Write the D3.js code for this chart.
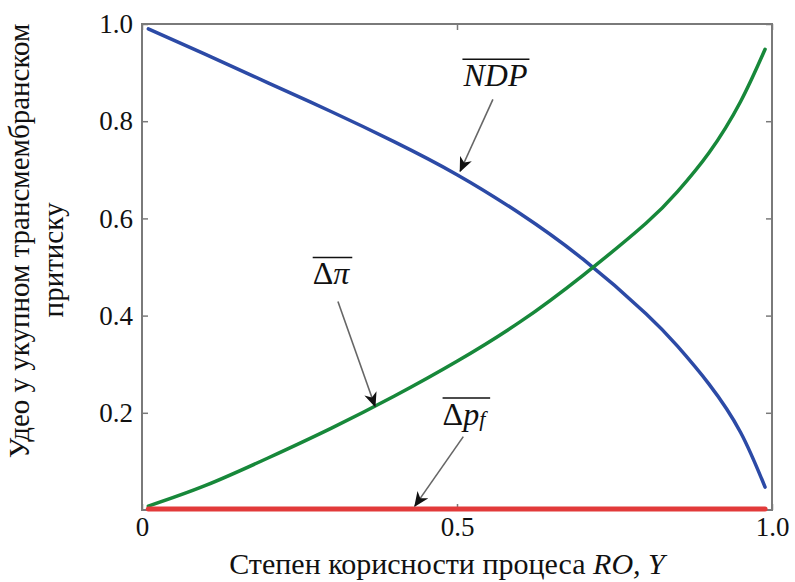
<!DOCTYPE html>
<html>
<head>
<meta charset="utf-8">
<script src="https://cdn.jsdelivr.net/npm/d3@7"></script>
<style>
    body { margin: 0; background: #fff; }
    svg { display: block; }
    svg text { fill: #111; }
</style>
</head>
<body>
<svg id="chart"></svg>
<script>
// values
const yValues = [0.01, 0.1, 0.2, 0.3, 0.4, 0.5, 0.6, 0.7, 0.8, 0.85, 0.9, 0.95, 0.989]
const ndp = [0.99, 0.938, 0.879, 0.82, 0.758, 0.69, 0.61, 0.516, 0.404, 0.337, 0.259, 0.16, 0.047]
const deltaPi = [0.008, 0.05, 0.107, 0.168, 0.234, 0.306, 0.387, 0.483, 0.59, 0.655, 0.735, 0.84, 0.948]
const deltaPf = [0.002, 0.002, 0.002, 0.002, 0.002, 0.002, 0.002, 0.002, 0.002, 0.002, 0.002, 0.002, 0.002]

const xTicks = [0, 0.5, 1.0]
const xTickLabels = ['0', '0.5', '1.0']
const yTicks = [0.2, 0.4, 0.6, 0.8, 1.0]
const yTickLabels = ['0.2', '0.4', '0.6', '0.8', '1.0']

const seriesNames = ['NDP', 'Δπ', 'Δpf']

const width = 795
const height = 582
const margin = { top: 24, right: 23, bottom: 72, left: 142 }
const serif = '"Liberation Serif", "Times New Roman", "DejaVu Serif", serif'

const svg = d3.select('#chart')
    .attr('width', width)
    .attr('height', height)
    .attr('font-family', serif)

const x = d3.scaleLinear().domain([0, 1]).range([margin.left, width - margin.right])
const y = d3.scaleLinear().domain([0, 1]).range([height - margin.bottom, margin.top])

// frame, matlab style with ticks pointing inwards
const frameColor = '#7a7a7a'

function axisGroup(transform, axis) {
    return svg.append('g')
        .attr('transform', transform)
        .call(axis)
        .attr('font-family', serif)
        .attr('font-size', 27)
        .call(g => g.select('.domain').remove())
}

axisGroup(`translate(0,${y(0)})`,
    d3.axisBottom(x).tickValues(xTicks).tickSize(-6).tickPadding(7)
        .tickFormat((d, i) => xTickLabels[i]))
axisGroup(`translate(${x(0)},0)`,
    d3.axisLeft(y).tickValues(yTicks).tickSize(-6).tickPadding(9)
        .tickFormat((d, i) => yTickLabels[i]))
axisGroup(`translate(${x(1)},0)`,
    d3.axisRight(y).tickValues(yTicks).tickSize(-6).tickFormat(''))
axisGroup(`translate(0,${y(1)})`,
    d3.axisTop(x).tickValues(xTicks).tickSize(-6).tickFormat(''))

svg.selectAll('.tick line').attr('stroke', frameColor).attr('stroke-width', 1.5)
svg.selectAll('.tick text').attr('fill', '#111')

svg.append('rect')
    .attr('x', x(0))
    .attr('y', y(1))
    .attr('width', x(1) - x(0))
    .attr('height', y(0) - y(1))
    .attr('fill', 'none')
    .attr('stroke', frameColor)
    .attr('stroke-width', 2)

// the three curves
const line = d3.line()
    .x(d => x(d[0]))
    .y(d => y(d[1]))
    .curve(d3.curveNatural)

const curves = [
    { name: seriesNames[0], values: ndp, color: '#2c4aa6', width: 3.5 },
    { name: seriesNames[1], values: deltaPi, color: '#17883a', width: 3.5 },
    { name: seriesNames[2], values: deltaPf, color: '#e23a3a', width: 5 }
]

svg.append('g').attr('class', 'curves')
    .selectAll('path')
    .data(curves)
    .join('path')
    .attr('d', c => line(yValues.map((v, i) => [v, c.values[i]])))
    .attr('fill', 'none')
    .attr('stroke', c => c.color)
    .attr('stroke-width', c => c.width)
    .attr('stroke-linecap', 'round')

// annotations with arrows, placed in data units
svg.append('defs').append('marker')
    .attr('id', 'head')
    .attr('viewBox', '0 0 14 12')
    .attr('refX', 13)
    .attr('refY', 6)
    .attr('markerUnits', 'userSpaceOnUse')
    .attr('markerWidth', 15)
    .attr('markerHeight', 13)
    .attr('orient', 'auto')
    .append('path')
    .attr('d', 'M0,0 L14,6 L0,12 L4,6 Z')
    .attr('fill', '#111')

const notes = [
    { parts: [['NDP', 'italic', false]], tx: 0.561, ty: 0.872, from: [0.557, 0.845], to: [0.505, 0.697] },
    { parts: [['Δ', 'normal', false], ['π', 'italic', false]], tx: 0.30, ty: 0.464, from: [0.311, 0.429], to: [0.37, 0.213] },
    { parts: [['Δ', 'normal', false], ['p', 'italic', false], ['f', 'italic', true]], tx: 0.511, ty: 0.175, from: [0.51, 0.151], to: [0.433, 0.008] }
]

const noteGroup = svg.append('g').attr('class', 'notes')

notes.forEach(note => {
    noteGroup.append('line')
        .attr('x1', x(note.from[0]))
        .attr('y1', y(note.from[1]))
        .attr('x2', x(note.to[0]))
        .attr('y2', y(note.to[1]))
        .attr('stroke', '#666')
        .attr('stroke-width', 1.6)
        .attr('marker-end', 'url(#head)')

    const label = noteGroup.append('text')
        .attr('x', x(note.tx))
        .attr('y', y(note.ty))
        .attr('text-anchor', 'middle')
        .attr('font-size', 32)

    note.parts.forEach(([str, style, sub]) => {
        const span = label.append('tspan')
            .text(str)
            .attr('font-style', style)
        if (sub) span.attr('font-size', 22).attr('dy', 1)
    })

    // bar over the symbol
    const box = label.node().getBBox()
    noteGroup.append('line')
        .attr('x1', box.x)
        .attr('x2', box.x + box.width + 2)
        .attr('y1', box.y + 2)
        .attr('y2', box.y + 2)
        .attr('stroke', '#111')
        .attr('stroke-width', 1.6)
})

// axis titles
const xTitle = svg.append('text')
    .attr('x', 447)
    .attr('y', 574)
    .attr('text-anchor', 'middle')
    .attr('font-size', 30)
xTitle.append('tspan').text('Степен корисности процеса ')
xTitle.append('tspan').text('RO, Y').attr('font-style', 'italic')

const yTitle = ['Удео у укупном трансмембранском', 'притиску']
svg.append('g').selectAll('text')
    .data(yTitle)
    .join('text')
    .attr('transform', (d, i) => `translate(${29 + i * 34},${241 + i * 19}) rotate(-90)`)
    .attr('text-anchor', 'middle')
    .attr('font-size', 29)
    .text(d => d)
</script>
</body>
</html>
